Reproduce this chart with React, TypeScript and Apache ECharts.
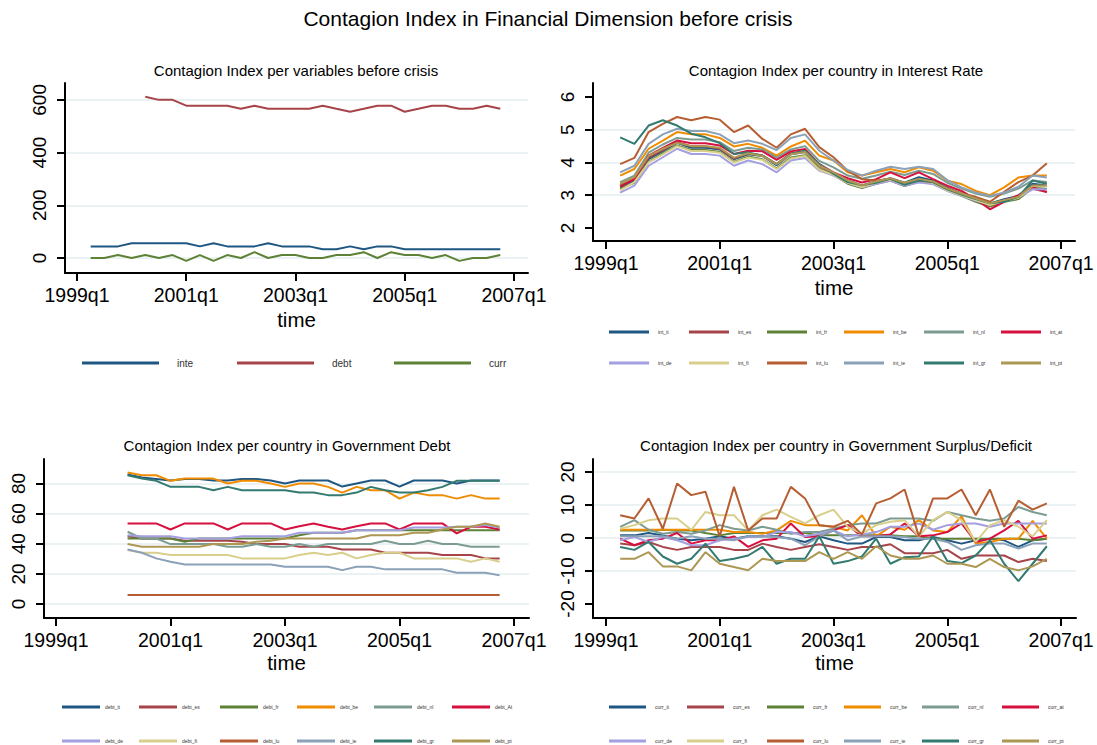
import React, { useEffect, useRef } from "react";
import * as echarts from "echarts";

// ---------------- DATA ----------------
const quarters = [
  "1999q2", "1999q3", "1999q4",
  "2000q1", "2000q2", "2000q3", "2000q4",
  "2001q1", "2001q2", "2001q3", "2001q4",
  "2002q1", "2002q2", "2002q3", "2002q4",
  "2003q1", "2003q2", "2003q3", "2003q4",
  "2004q1", "2004q2", "2004q3", "2004q4",
  "2005q1", "2005q2", "2005q3", "2005q4",
  "2006q1", "2006q2", "2006q3", "2006q4",
];
const tickLabels = ["1999q1", "2001q1", "2003q1", "2005q1", "2007q1"];

// Panel 1: per variable
const varNames = ["inte", "debt", "curr"];
const inte = [44, 44, 44, 56, 56, 56, 56, 56, 44, 56, 44, 44, 44, 56, 44, 44, 44, 33, 33, 44, 33, 44, 44, 33, 33, 33, 33, 33, 33, 33, 33];
const debt = [null, null, null, null, 612, 600, 600, 578, 578, 578, 578, 566, 578, 566, 566, 566, 566, 578, 566, 555, 566, 578, 578, 555, 566, 578, 578, 566, 566, 578, 566];
const curr = [0, 0, 11, 0, 11, 0, 11, -11, 11, -11, 11, 0, 22, 0, 11, 11, 0, 0, 11, 11, 22, 0, 22, 11, 11, 0, 11, -11, 0, 0, 11];

// Panel 2: interest rate per country
const intNames = ["int_it", "int_es", "int_fr", "int_be", "int_nl", "int_at", "int_de", "int_fi", "int_lu", "int_ie", "int_gr", "int_pt"];
const int_it = [3.25, 3.45, 4.1, 4.35, 4.6, 4.45, 4.45, 4.4, 4.1, 4.25, 4.2, 3.92, 4.25, 4.32, 3.9, 3.68, 3.45, 3.3, 3.42, 3.52, 3.38, 3.55, 3.45, 3.22, 3.05, 2.9, 2.75, 2.88, 2.98, 3.35, 3.3];
const int_es = [3.3, 3.5, 4.15, 4.38, 4.62, 4.5, 4.5, 4.42, 4.12, 4.28, 4.22, 3.95, 4.28, 4.35, 3.88, 3.66, 3.42, 3.28, 3.4, 3.5, 3.35, 3.45, 3.38, 3.2, 3.02, 2.85, 2.7, 2.85, 2.95, 3.2, 3.1];
const int_fr = [3.2, 3.38, 4.02, 4.28, 4.52, 4.38, 4.38, 4.32, 4.02, 4.18, 4.1, 3.82, 4.15, 4.22, 3.8, 3.62, 3.35, 3.22, 3.35, 3.45, 3.28, 3.42, 3.35, 3.15, 2.98, 2.8, 2.65, 2.8, 2.88, 3.22, 3.2];
const int_be = [3.6, 3.8, 4.42, 4.67, 4.93, 4.86, 4.86, 4.75, 4.49, 4.57, 4.45, 4.21, 4.49, 4.67, 4.21, 4.06, 3.7, 3.6, 3.7, 3.8, 3.7, 3.85, 3.75, 3.44, 3.34, 3.13, 3.0, 3.24, 3.54, 3.6, 3.6];
const int_nl = [3.4, 3.6, 4.3, 4.55, 4.75, 4.7, 4.7, 4.62, 4.35, 4.45, 4.4, 4.15, 4.4, 4.5, 4.05, 3.85, 3.6, 3.5, 3.6, 3.72, 3.62, 3.75, 3.65, 3.38, 3.2, 3.05, 2.95, 3.05, 3.2, 3.45, 3.4];
const int_at = [3.26, 3.49, 4.21, 4.45, 4.67, 4.59, 4.59, 4.52, 4.26, 4.36, 4.34, 4.08, 4.34, 4.41, 3.95, 3.7, 3.52, 3.39, 3.49, 3.7, 3.52, 3.7, 3.49, 3.29, 3.13, 2.88, 2.57, 2.8, 3.0, 3.24, 3.1];
const int_de = [3.08, 3.29, 3.9, 4.16, 4.42, 4.26, 4.26, 4.21, 3.9, 4.06, 3.95, 3.7, 4.06, 4.14, 3.75, 3.6, 3.39, 3.24, 3.34, 3.44, 3.29, 3.39, 3.34, 3.13, 2.98, 2.83, 2.72, 2.83, 2.93, 3.18, 3.18];
const int_fi = [3.15, 3.4, 4.0, 4.25, 4.5, 4.35, 4.35, 4.3, 4.0, 4.15, 4.08, 3.8, 4.12, 4.2, 3.78, 3.62, 3.38, 3.25, 3.38, 3.48, 3.32, 3.45, 3.38, 3.15, 3.0, 2.85, 2.7, 2.82, 2.92, 3.28, 3.28];
const int_lu = [3.95, 4.14, 4.93, 5.18, 5.39, 5.29, 5.39, 5.31, 4.93, 5.13, 4.72, 4.45, 4.86, 5.03, 4.47, 4.16, 3.75, 3.49, 3.45, 3.5, 3.35, 3.45, 3.4, 3.2, 3.05, 2.95, 2.8, 3.1, 3.4, 3.6, 3.98];
const int_ie = [3.7, 3.9, 4.57, 4.86, 5.03, 4.96, 4.96, 4.86, 4.59, 4.67, 4.57, 4.38, 4.75, 4.86, 4.36, 4.06, 3.77, 3.6, 3.75, 3.87, 3.8, 3.87, 3.8, 3.46, 3.24, 3.08, 2.98, 3.08, 3.26, 3.6, 3.54];
const int_gr = [4.77, 4.57, 5.13, 5.29, 5.13, 4.88, 4.77, 4.59, 4.26, 4.31, 4.21, 3.95, 4.26, 4.36, 3.95, 3.65, 3.4, 3.3, 3.38, 3.5, 3.32, 3.45, 3.4, 3.18, 3.02, 2.88, 2.75, 2.8, 2.95, 3.45, 3.35];
const int_pt = [3.35, 3.55, 4.2, 4.42, 4.6, 4.5, 4.5, 4.45, 4.15, 4.28, 4.2, 3.95, 4.25, 4.32, 3.9, 3.7, 3.45, 3.3, 3.42, 3.52, 3.38, 3.5, 3.42, 3.2, 3.05, 2.9, 2.75, 2.85, 2.95, 3.3, 3.3];

// Panel 3: government debt per country
const debtNames = ["debt_it", "debt_es", "debt_fr", "debt_be", "debt_nl", "debt_At", "debt_de", "debt_fi", "debt_lu", "debt_ie", "debt_gr", "debt_pt"];
const debt_it = [null, null, null, null, 86, 84, 83, 82, 83, 83, 82, 82, 83, 83, 82, 80, 82, 82, 82, 78, 80, 82, 82, 78, 82, 82, 82, 80, 82, 82, 82];
const debt_es = [null, null, null, null, 45, 43.5, 43.5, 43.5, 42, 42, 42, 42, 41.3, 39.8, 39.8, 39.8, 38, 38, 38, 36.2, 36.2, 36.2, 34, 34, 34, 34, 32.5, 32.5, 32.5, 30.3, 30.3];
const debt_fr = [null, null, null, null, 43.5, 43.5, 43.5, 43.5, 41.3, 43.5, 43.5, 43.5, 43.5, 43.5, 43.5, 43.5, 45.7, 47.3, 47.3, 47.3, 49, 49, 49, 49, 49, 49, 49, 49, 49, 49, 49];
const debt_be = [null, null, null, null, 87.3, 85.5, 85.5, 81.8, 83.3, 83.3, 83.3, 80, 81.8, 81.8, 80, 77.8, 80, 80, 77.8, 74, 77.8, 75.6, 75.6, 70, 74, 72.3, 72.3, 70, 72.3, 70, 70];
const debt_nl = [null, null, null, null, 48, 43.5, 43.5, 39.8, 39.8, 39.8, 39.8, 38, 38, 39.8, 38, 38, 39.8, 38, 39.8, 39.8, 39.8, 39.8, 42, 39.8, 39.8, 42, 39.8, 39.8, 38, 38, 38];
const debt_At = [null, null, null, null, 53.5, 53.5, 53.5, 49.5, 53.5, 53.5, 53.5, 49.5, 53.5, 53.5, 53.5, 49.5, 51.7, 53.5, 51.3, 49.5, 51.7, 53.5, 53.5, 49.5, 53.5, 53.5, 53.5, 46.9, 51.3, 51.3, 49.5];
const debt_de = [null, null, null, null, 45.7, 45, 45, 45, 43.5, 43.5, 43.5, 43.5, 45, 45, 45, 45, 47.3, 47.3, 47.3, 47.3, 49, 49, 49, 49, 50.8, 50.8, 50.8, 51.3, 51.3, 52.4, 50.8];
const debt_fi = [null, null, null, null, 35.8, 34, 34, 32.5, 32.5, 32.5, 32.5, 32.5, 30.3, 30.3, 30.3, 30.3, 32.5, 34, 32.5, 34, 30.3, 32.5, 34, 34, 30.3, 30.3, 30.3, 30.3, 28.1, 30.3, 28.1];
const debt_lu = [null, null, null, null, 6, 6, 6, 6, 6, 6, 6, 6, 6, 6, 6, 6, 6, 6, 6, 6, 6, 6, 6, 6, 6, 6, 6, 6, 6, 6, 6];
const debt_ie = [null, null, null, null, 36.2, 34, 30.3, 28.1, 26.3, 26.3, 26.3, 26.3, 26.3, 26.3, 26.3, 24.8, 24.8, 24.8, 24.8, 22.5, 24.8, 24.8, 23, 23, 23, 23, 23, 20.8, 20.8, 20.8, 19];
const debt_gr = [null, null, null, null, 85.5, 83.3, 81.8, 77.8, 77.8, 77.8, 75.6, 77.8, 75.6, 75.6, 75.6, 75.6, 74, 74, 72.3, 72.3, 74, 77.8, 75.6, 74, 74, 75.6, 77.8, 81.8, 81.8, 81.8, 81.8];
const debt_pt = [null, null, null, null, 39.8, 38, 38, 38, 38, 38, 39.8, 39.8, 39.8, 41.3, 42, 43.5, 43.5, 43.5, 43.5, 43.5, 43.5, 45.7, 45.7, 45.7, 47.3, 47.3, 49.5, 51.3, 51.3, 53.5, 51.3];

// Panel 4: government surplus/deficit per country
const currNames = ["curr_it", "curr_es", "curr_fr", "curr_be", "curr_nl", "curr_at", "curr_de", "curr_fi", "curr_lu", "curr_ie", "curr_gr", "curr_pt"];
const curr_it = [0.8, 0.8, 1.5, 0.8, -0.2, -0.7, -0.2, 0.5, -0.2, 0.5, 0.5, 0.5, -0.2, -1.2, 0.5, -0.7, -1.7, -1.7, 0.3, 0.3, -0.7, -0.7, 0.3, -0.7, -1.7, -0.7, -0.2, -0.7, -2.7, -0.7, -0.2];
const curr_es = [-1.7, -2.2, -1.2, -2.7, -3.6, -2.7, -2.7, -2.7, -3.6, -3.6, -1.7, -2.7, -3.6, -2.7, -1.9, -2.7, -3.6, -2.7, -2.7, -1.9, -4.6, -4.6, -4.6, -3.6, -6.3, -5.3, -5.3, -5.3, -7.3, -6.3, -7];
const curr_fr = [2.3, 2.3, 2.3, 2.5, 2.3, 2.3, 1.5, 0.8, 1.5, 1.5, 1.5, 1.5, 1.5, 1.5, 0.8, 0.8, 0.8, 0.8, 0.8, 0.8, 0.5, 0.5, -0.2, -0.2, -0.2, -0.2, -0.2, -0.2, -0.2, -0.7, -0.2];
const curr_be = [2.5, 2.5, 2.5, 2.5, 2.5, 2.5, 2.5, 2.5, 1.8, 1.8, 1.3, 2.3, 5.2, 3.9, 3.9, 3.4, 2.3, 6.9, 0.5, 3.4, 2.5, 5.4, 2.3, 1.8, 6.6, -1.7, -1.2, -0.2, -0.2, 5.2, -0.2];
const curr_nl = [3.4, 5.4, 2.5, 1.3, 1.8, 1.3, 2.3, 3.9, 2.8, 2.3, 3.4, 2.5, 1.3, 1.8, 1.8, 2.8, 3.9, 4.4, 4.4, 5.9, 5.9, 5.9, 5.2, 7.9, 6.9, 5.9, 5.2, 5.9, 9.4, 7.9, 6.9];
const curr_at = [-0.2, -2.2, -0.7, -0.2, 1.5, -1.7, -0.7, -0.7, 0.5, -2.7, -0.7, -0.2, 4.4, 0.3, 0.5, 2.3, 3.9, 0.5, 0.5, 1.1, 4.4, 0.5, 0.8, 1.8, 4.4, -1.2, -0.2, 2.3, 5.2, -0.2, 0.8];
const curr_de = [-0.7, 0.3, -1.2, 0.3, -0.7, -2.2, -2.2, -0.7, -0.2, 0.3, 0.3, 1.8, 1.8, 0.5, 1.3, 2.3, 0.5, 1.1, 1.8, 3.4, 3.4, 4.4, 2.5, 3.9, 4.4, 4.4, 3.4, 4.4, 4.4, 4.4, 4.4];
const curr_fi = [2.8, 3.9, 5.4, 5.9, 5.9, 2.5, 7.9, 6.9, 6.9, 2.3, 6.9, 8.6, 6.4, 4.4, 6.9, 8.6, 3.4, 1.3, 3.9, 4.9, 5.4, 0.5, 5.4, 7.9, 5.4, -1.2, 3.9, 5.4, 3.4, 0.5, 5.4];
const curr_lu = [6.9, 5.9, 12, 2.8, 16.5, 13, 14, 0.5, 15.5, 2.3, 5.9, 5.9, 15.5, 12, 3.9, 3.4, 5.2, 1.1, 10.5, 12, 14.7, 0.5, 12, 12, 14.7, 6.9, 14.7, 3.4, 11.3, 8.6, 10.5];
const curr_ie = [0.5, 0.5, 0.5, 0.5, -0.2, 0.5, -0.2, -0.2, -0.7, 0.5, 0.5, 0.3, -0.2, -2.2, 0.5, 2.3, -0.7, 0.5, 0.5, 0.5, 0.3, -0.2, -0.2, -1.2, -3.6, -2.2, -1.7, -1.7, -3.2, -1.7, -1.7];
const curr_gr = [-2.7, -3.6, -1.2, -5.6, -7.8, -6.3, -1.7, -7, -6.3, -5.3, -2.7, -7.8, -6.3, -6.3, 0.5, -7.8, -7, -5.6, -0.2, -7.8, -5.8, -5.6, 0.5, -7, -7.6, -5.3, -0.7, -7.8, -13.1, -7.8, -2.5];
const curr_pt = [-6.3, -6.3, -4.3, -8.6, -8.6, -9.8, -4.3, -7.8, -8.8, -9.8, -6.3, -7, -7, -7, -4.3, -6.3, -4.3, -6.3, -2.5, -5.3, -6.3, -6.3, -5.3, -7.8, -7.8, -8.8, -6.3, -8.8, -9.8, -8.6, -6.3];

// Y tick labels per panel
const yTicks1 = [0, 200, 400, 600];
const yTicks2 = [2, 3, 4, 5, 6];
const yTicks3 = [0, 20, 40, 60, 80];
const yTicks4 = [-20, -10, 0, 10, 20];
const yGrid1 = [0, 200, 400, 600];
const yGrid2 = [3, 4, 5];
const yGrid3 = [0, 20, 40, 60, 80];
const yGrid4 = [-10, 0, 10, 20];

// ---------------- STYLE ----------------
const FONT = "'Liberation Sans', Arial, Helvetica, sans-serif";
const COLORS = ["#1f5783", "#a6444a", "#5d8236", "#f08c00", "#7c9c92", "#d6103f", "#a49fe0", "#d8cf8c", "#b65e32", "#8aa1b8", "#337a71", "#ad9752"];
const GRID_COLOR = "#eaf2f3";

const qIndex = (q: string) => (parseInt(q.slice(0, 4), 10) - 1999) * 4 + (parseInt(q.slice(5), 10) - 1);
const tickPos = tickLabels.map(qIndex);
const labelFor = (v: number) => {
  const i = tickPos.indexOf(Math.round(v));
  return i >= 0 ? tickLabels[i] : "";
};
const toPoints = (vals: (number | null)[]) => vals.map((v, i) => [qIndex(quarters[i]), v === null ? "-" : v]);

const panels = [
  { grid: { left: 65, top: 83, width: 463, height: 190 }, xMin: -0.88, xMax: 33.03, yMin: -57, yMax: 664, yTicks: yTicks1, yGrid: yGrid1, nameGap: 36 },
  { grid: { left: 593, top: 83, width: 482, height: 158 }, xMin: -0.91, xMax: 32.98, yMin: 1.6, yMax: 6.43, yTicks: yTicks2, yGrid: yGrid2, nameGap: 36 },
  { grid: { left: 44, top: 459, width: 485, height: 159 }, xMin: -0.84, xMax: 33.05, yMin: -9.3, yMax: 96.3, yTicks: yTicks3, yGrid: yGrid3, nameGap: 34 },
  { grid: { left: 593, top: 459, width: 483, height: 159 }, xMin: -0.91, xMax: 33.05, yMin: -24.24, yMax: 23.94, yTicks: yTicks4, yGrid: yGrid4, nameGap: 34 },
];

const panelSeries = [
  { names: varNames, values: [inte, debt, curr] },
  { names: intNames, values: [int_it, int_es, int_fr, int_be, int_nl, int_at, int_de, int_fi, int_lu, int_ie, int_gr, int_pt] },
  { names: debtNames, values: [debt_it, debt_es, debt_fr, debt_be, debt_nl, debt_At, debt_de, debt_fi, debt_lu, debt_ie, debt_gr, debt_pt] },
  { names: currNames, values: [curr_it, curr_es, curr_fr, curr_be, curr_nl, curr_at, curr_de, curr_fi, curr_lu, curr_ie, curr_gr, curr_pt] },
];

const legendLayouts = [
  { starts: [82, 237, 394], rows: [363], itemWidth: 77, textOffset: 95, fontSize: 10 },
  { starts: [609, 689, 767, 844, 924, 1001], rows: [332, 363], itemWidth: 40, textOffset: 49, fontSize: 5 },
  { starts: [62, 139, 220, 297, 374, 452], rows: [707, 741], itemWidth: 38, textOffset: 43, fontSize: 5 },
  { starts: [609, 687, 767, 844, 922, 1002], rows: [707, 741], itemWidth: 37, textOffset: 46, fontSize: 5 },
];

const titles = [
  { text: "Contagion Index in Financial Dimension before crisis", x: 548, y: 18, size: 21 },
  { text: "Contagion Index per variables before crisis", x: 296, y: 70, size: 15 },
  { text: "Contagion Index per country in Interest Rate", x: 836, y: 70, size: 15 },
  { text: "Contagion Index per country in Government Debt", x: 287, y: 445, size: 15 },
  { text: "Contagion Index per country in Government Surplus/Deficit", x: 836, y: 445, size: 15 },
];

function buildOption() {
  const grid: any[] = [];
  const xAxis: any[] = [];
  const yAxis: any[] = [];
  const series: any[] = [];
  const legend: any[] = [];

  panels.forEach((p, k) => {
    grid.push({ ...p.grid, containLabel: false, outerBoundsMode: "none" });
    xAxis.push({
      type: "value",
      gridIndex: k,
      min: p.xMin,
      max: p.xMax,
      name: "time",
      nameLocation: "middle",
      nameGap: p.nameGap,
      nameTextStyle: { fontSize: 20.5, color: "#000", fontFamily: FONT },
      axisLine: { show: true, onZero: false, lineStyle: { color: "#000", width: 2 } },
      axisTick: { show: true, length: 8, lineStyle: { color: "#000", width: 2 }, customValues: tickPos },
      axisLabel: { show: true, customValues: tickPos, formatter: labelFor, fontSize: 19.5, color: "#000", margin: 12, fontFamily: FONT },
      splitLine: { show: false },
    });
    yAxis.push({
      type: "value",
      gridIndex: k,
      min: p.yMin,
      max: p.yMax,
      axisLine: { show: true, onZero: false, lineStyle: { color: "#000", width: 2 } },
      axisTick: { show: true, length: 8, lineStyle: { color: "#000", width: 2 }, customValues: p.yTicks },
      axisLabel: { show: true, customValues: p.yTicks, rotate: 90, fontSize: 19, color: "#000", margin: 16, fontFamily: FONT },
      splitLine: { show: false },
    });
    // gridlines (drawn beneath the data lines)
    series.push({
      type: "line",
      name: "gridlines" + k,
      xAxisIndex: k,
      yAxisIndex: k,
      data: [],
      silent: true,
      z: 0,
      markLine: {
        z: 0,
        silent: true,
        symbol: ["none", "none"],
        label: { show: false },
        lineStyle: { color: GRID_COLOR, width: 2, type: "solid" },
        emphasis: { disabled: true },
        data: p.yGrid.map((v) => ({ yAxis: v })),
      },
    });
    const ps = panelSeries[k];
    ps.names.forEach((name, i) => {
      series.push({
        type: "line",
        name,
        xAxisIndex: k,
        yAxisIndex: k,
        data: toPoints(ps.values[i] as (number | null)[]),
        symbol: "none",
        showSymbol: false,
        connectNulls: false,
        z: 3,
        lineStyle: { width: 2, color: COLORS[i] },
        itemStyle: { color: COLORS[i] },
        emphasis: { disabled: true },
      });
    });
    const L = legendLayouts[k];
    ps.names.forEach((name, i) => {
      const col = i % L.starts.length;
      const row = Math.floor(i / L.starts.length);
      legend.push({
        data: [name],
        left: L.starts[col],
        top: L.rows[row] - Math.max(L.fontSize, 3) / 2,
        padding: 0,
        icon: "rect",
        itemWidth: L.itemWidth,
        itemHeight: 3,
        selectedMode: false,
        textStyle: { fontSize: L.fontSize, color: "#333", fontFamily: FONT, padding: [0, 0, 0, L.textOffset - L.itemWidth - 5] },
      });
    });
  });

  return {
    animation: false,
    backgroundColor: "#ffffff",
    textStyle: { fontFamily: FONT },
    grid,
    xAxis,
    yAxis,
    series,
    legend,
    graphic: titles.map((t) => ({
      type: "text",
      x: t.x,
      y: t.y,
      silent: true,
      style: { text: t.text, align: "center", verticalAlign: "middle", fontSize: t.size, fontFamily: FONT, fill: "#000" },
    })),
  };
}

export default function App() {
  const ref = useRef<HTMLDivElement>(null);
  useEffect(() => {
    if (!ref.current) return;
    const chart = echarts.init(ref.current, undefined, { renderer: "svg" });
    chart.setOption(buildOption() as any);
    return () => chart.dispose();
  }, []);
  return <div ref={ref} style={{ position: "absolute", left: 0, top: 0, width: 1097, height: 745, background: "#fff" }} />;
}
